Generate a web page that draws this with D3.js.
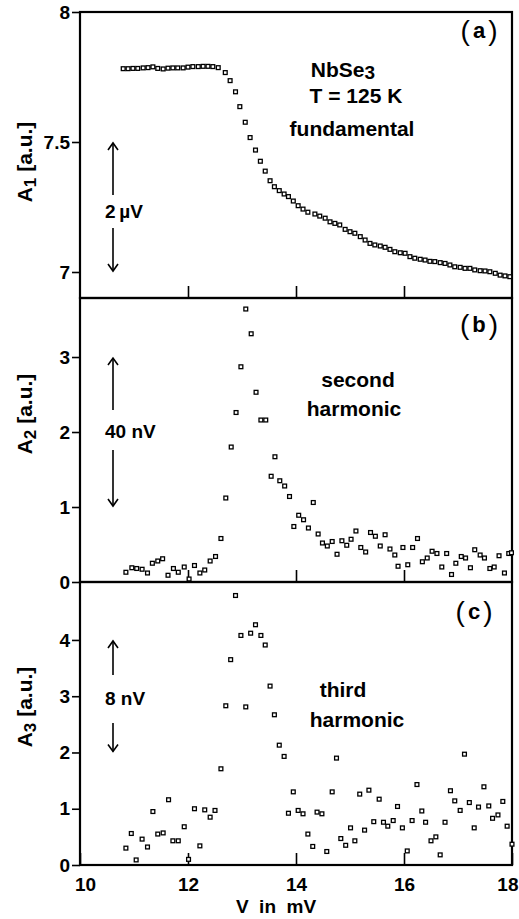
<!DOCTYPE html>
<html>
<head>
<meta charset="utf-8">
<script src="https://cdn.jsdelivr.net/npm/d3@7"></script>
<style>
  body { margin: 0; background: #fff; }
  svg { display: block; }
  text { font-family: "Liberation Sans", Arial, sans-serif; font-weight: bold; fill: #000; }
</style>
</head>
<body>
<div class="chart"></div>
<script>
// A1, fundamental (V in mV, amplitude a.u.)
const fundV = [10.80,10.89,10.98,11.07,11.17,11.26,11.35,11.44,11.54,11.63,11.72,11.81,11.91,12.00,12.09,12.19,12.28,12.37,12.46,12.56,
  12.69,12.78,12.88,12.96,13.06,13.15,13.25,13.34,13.43,13.52,13.60,13.69,13.78,13.86,13.95,14.04,14.13,14.22,
  14.35,14.44,14.54,14.63,14.72,14.81,14.91,15.00,15.09,15.19,15.28,15.37,15.46,15.56,15.65,15.74,15.83,15.93,
  16.02,16.11,16.20,16.30,16.39,16.48,16.57,16.67,16.76,16.85,16.94,17.04,17.13,17.22,17.31,17.41,17.50,17.59,
  17.69,17.78,17.87,17.96]
const fundA = [7.782,7.782,7.783,7.783,7.785,7.786,7.789,7.783,7.781,7.784,7.785,7.785,7.785,7.788,7.790,7.790,7.791,7.791,7.790,7.786,
  7.767,7.736,7.693,7.636,7.576,7.517,7.469,7.426,7.388,7.351,7.328,7.313,7.300,7.290,7.273,7.255,7.242,7.230,
  7.223,7.215,7.207,7.193,7.187,7.181,7.164,7.155,7.149,7.136,7.123,7.110,7.104,7.100,7.095,7.087,7.078,7.074,
  7.072,7.059,7.053,7.049,7.046,7.041,7.040,7.036,7.033,7.027,7.020,7.018,7.014,7.014,7.008,7.005,7.004,7.001,
  6.995,6.988,6.985,6.982]

// A2, second harmonic
const secV = [10.85,10.96,11.05,11.15,11.25,11.34,11.44,11.53,11.63,11.73,11.82,11.93,12.02,12.12,12.22,12.31,12.41,12.51,12.61,12.70,
  12.80,12.89,12.98,13.07,13.17,13.26,13.35,13.44,13.54,13.61,13.70,13.79,13.88,13.96,14.05,14.14,14.23,14.32,14.41,14.49,
  14.58,14.67,14.76,14.85,14.94,15.02,15.11,15.20,15.29,15.38,15.47,15.56,15.65,15.74,15.83,15.89,15.98,16.07,16.16,16.25,
  16.34,16.43,16.52,16.61,16.70,16.79,16.88,16.96,17.06,17.14,17.23,17.31,17.41,17.49,17.59,17.67,17.76,17.86,17.94,17.99]
const secA = [0.13,0.19,0.18,0.17,0.12,0.25,0.28,0.31,0.09,0.18,0.13,0.20,0.04,0.22,0.12,0.16,0.28,0.34,0.58,1.12,
  1.80,2.26,2.87,3.64,3.31,2.53,2.16,2.16,1.41,1.67,1.35,1.28,1.14,0.74,0.89,0.83,0.72,1.06,0.64,0.52,
  0.48,0.54,0.37,0.55,0.49,0.57,0.68,0.46,0.40,0.66,0.61,0.48,0.63,0.44,0.36,0.21,0.46,0.23,0.46,0.58,
  0.27,0.32,0.41,0.38,0.20,0.38,0.10,0.25,0.34,0.32,0.19,0.43,0.36,0.32,0.18,0.20,0.35,0.12,0.38,0.39]

// A3, third harmonic
const thirdV = [10.85,10.95,11.04,11.15,11.25,11.35,11.44,11.54,11.64,11.72,11.82,11.93,12.01,12.12,12.22,12.31,12.41,12.50,12.61,12.70,
  12.79,12.88,12.98,13.07,13.16,13.25,13.35,13.43,13.52,13.60,13.69,13.78,13.86,13.95,14.04,14.13,14.22,14.31,14.39,14.48,
  14.57,14.67,14.75,14.83,14.92,15.01,15.09,15.18,15.27,15.35,15.44,15.54,15.62,15.70,15.80,15.88,15.97,16.06,16.15,16.24,
  16.33,16.40,16.50,16.59,16.67,16.76,16.86,16.94,17.04,17.12,17.21,17.30,17.38,17.48,17.57,17.64,17.74,17.83,17.91,18.00]
const thirdA = [0.30,0.56,0.09,0.46,0.32,0.95,0.55,0.57,1.16,0.43,0.43,0.68,0.10,1.00,0.34,0.98,0.85,0.97,1.71,2.83,
  3.65,4.79,4.08,2.81,4.12,4.27,4.08,3.91,3.18,2.67,2.13,1.93,0.92,1.30,0.97,0.91,0.55,0.33,0.94,0.91,
  0.24,1.30,1.90,0.47,0.35,0.66,0.43,1.26,0.62,1.33,0.77,1.17,0.76,0.69,0.79,1.04,0.66,0.25,0.79,1.43,
  0.96,0.76,0.43,0.50,0.18,0.76,1.32,1.14,0.97,1.97,1.11,0.66,1.03,1.39,1.05,0.83,0.89,1.13,0.69,0.37]

const xTicks = [10, 12, 14, 16, 18]

const svgWidth = 519
const svgHeight = 919
const left = 80, right = 512

const svg = d3.select(".chart").append("svg")
    .attr("width", svgWidth)
    .attr("height", svgHeight)

const xScale = d3.scaleLinear().domain([10, 18]).range([left, right])

const panels = [
    { xs: fundV, ys: fundA, domain: [6.9, 8.0], top: 12, bottom: 298,
      ticks: [7, 7.5, 8], fmt: d => d === 7 ? "7" : d === 8 ? "8" : "7.5",
      sub: "1", tag: "a", tagX: 479, tagY: 40, titleY: 162,
      scaleText: "2\u2009\u00b5V", scaleY: 218, arrow: [7.5, 7.0], gapUp: 23, gapDown: 10,
      notes: [] },
    { xs: secV, ys: secA, domain: [0, 3.787], top: 298, bottom: 582,
      ticks: [0, 1, 2, 3], fmt: d3.format("d"),
      sub: "2", tag: "b", tagX: 479, tagY: 334, titleY: 414,
      scaleText: "40 nV", scaleY: 438, arrow: [3, 1], gapUp: 28, gapDown: 12,
      notes: [["second", 358, 387], ["harmonic", 354, 416]] },
    { xs: thirdV, ys: thirdA, domain: [0, 5.03], top: 582, bottom: 865,
      ticks: [0, 1, 2, 3, 4], fmt: d3.format("d"),
      sub: "3", tag: "c", tagX: 474, tagY: 621, titleY: 707,
      scaleText: "8 nV", scaleY: 705, arrow: [4, 2], gapUp: 30, gapDown: 18,
      notes: [["third", 343, 697], ["harmonic", 357, 727]] }
]

panels.forEach((p, i) => {
    const yScale = d3.scaleLinear().domain(p.domain).range([p.bottom, p.top])
    const g = svg.append("g")

    // inward ticks on the bottom edge
    const xAxis = d3.axisBottom(xScale)
        .tickValues(i === 2 ? xTicks : [12, 14, 16])
        .tickSize(-12)
        .tickPadding(13)
        .tickFormat(i === 2 ? d3.format("d") : "")
    const xg = g.append("g")
        .attr("transform", `translate(0, ${p.bottom})`)
        .call(xAxis)
    xg.select(".domain").remove()
    xg.selectAll("line").attr("stroke", "#000").attr("stroke-width", 1.6)
    xg.selectAll("text").attr("font-size", 19).attr("fill", "#000")
        .attr("font-family", "Liberation Sans, Arial").attr("font-weight", "bold")
    if (i === 2) {
        xg.selectAll("text").filter(d => d === 10).attr("dx", 5)
        xg.selectAll("text").filter(d => d === 18).attr("text-anchor", "end").attr("dx", 6)
    }

    const yAxis = d3.axisLeft(yScale)
        .tickValues(p.ticks)
        .tickSize(8)
        .tickPadding(2)
        .tickFormat(p.fmt)
    const yg = g.append("g")
        .attr("transform", `translate(${left}, 0)`)
        .call(yAxis)
    yg.select(".domain").remove()
    yg.selectAll("line").attr("stroke", "#000").attr("stroke-width", 1.6)
    yg.selectAll("text").attr("font-size", 19).attr("fill", "#000")
        .attr("font-family", "Liberation Sans, Arial").attr("font-weight", "bold")

    // frame
    g.append("rect")
        .attr("x", left).attr("y", p.top)
        .attr("width", right - left).attr("height", p.bottom - p.top)
        .attr("fill", "none").attr("stroke", "#000").attr("stroke-width", 2.2)

    // data squares
    const s = 3.8
    g.selectAll("rect.pt")
        .data(p.xs.map((v, k) => [v, p.ys[k]]))
        .join("rect")
        .attr("class", "pt")
        .attr("x", d => xScale(d[0]) - s / 2)
        .attr("y", d => yScale(d[1]) - s / 2)
        .attr("width", s).attr("height", s)
        .attr("fill", "#fff").attr("stroke", "#000").attr("stroke-width", 1.3)

    // y title
    const t = svg.append("text")
        .attr("transform", `translate(32, ${p.titleY}) rotate(-90)`)
        .attr("text-anchor", "middle")
        .attr("font-size", 21)
    t.append("tspan").text("A")
    t.append("tspan").attr("dy", 4).attr("font-size", 17).text(p.sub)
    t.append("tspan").attr("dy", -4).text(" [a.u.]")

    // panel tag: thin parentheses around a bold letter
    const tg = svg.append("text")
        .attr("x", p.tagX).attr("y", p.tagY)
        .attr("text-anchor", "middle")
        .attr("font-size", 28)
    tg.append("tspan").style("font-weight", "normal").text("(")
    tg.append("tspan").attr("font-size", 22).attr("dx", 3).attr("dy", -2).text(p.tag)
    tg.append("tspan").style("font-weight", "normal").attr("dx", 3).attr("dy", 2).text(")")

    // scale bar with arrows
    const ax = 113
    const yTop = yScale(p.arrow[0]), yBot = yScale(p.arrow[1])
    const upEnd = p.scaleY - p.gapUp, downStart = p.scaleY + p.gapDown
    const arr = g.append("g").attr("stroke", "#000").attr("stroke-width", 1.6).attr("fill", "none")
    arr.append("line").attr("x1", ax).attr("x2", ax).attr("y1", upEnd).attr("y2", yTop + 1)
    arr.append("path").attr("d", `M${ax - 5},${yTop + 8}L${ax},${yTop + 1}L${ax + 5},${yTop + 8}`)
    arr.append("line").attr("x1", ax).attr("x2", ax).attr("y1", downStart).attr("y2", yBot - 1)
    arr.append("path").attr("d", `M${ax - 5},${yBot - 8}L${ax},${yBot - 1}L${ax + 5},${yBot - 8}`)
    svg.append("text")
        .attr("x", 105).attr("y", p.scaleY)
        .attr("font-size", 19)
        .text(p.scaleText)

    p.notes.forEach(n => {
        svg.append("text")
            .attr("x", n[1]).attr("y", n[2])
            .attr("text-anchor", "middle")
            .attr("font-size", 21)
            .text(n[0])
    })
})

// panel (a) sample notes
const na = svg.append("text").attr("x", 343).attr("y", 77).attr("text-anchor", "middle").attr("font-size", 21)
na.append("tspan").text("NbSe")
na.append("tspan").attr("dy", 2).attr("font-size", 19).text("3")
svg.append("text").attr("x", 356).attr("y", 103).attr("text-anchor", "middle").attr("font-size", 21).text("T = 125 K")
svg.append("text").attr("x", 352).attr("y", 136).attr("text-anchor", "middle").attr("font-size", 21).text("fundamental")

svg.append("text")
    .attr("x", 276).attr("y", 913)
    .attr("text-anchor", "middle")
    .attr("font-size", 19)
    .text("V\u00a0\u00a0in\u00a0\u00a0mV")
</script>
</body>
</html>
